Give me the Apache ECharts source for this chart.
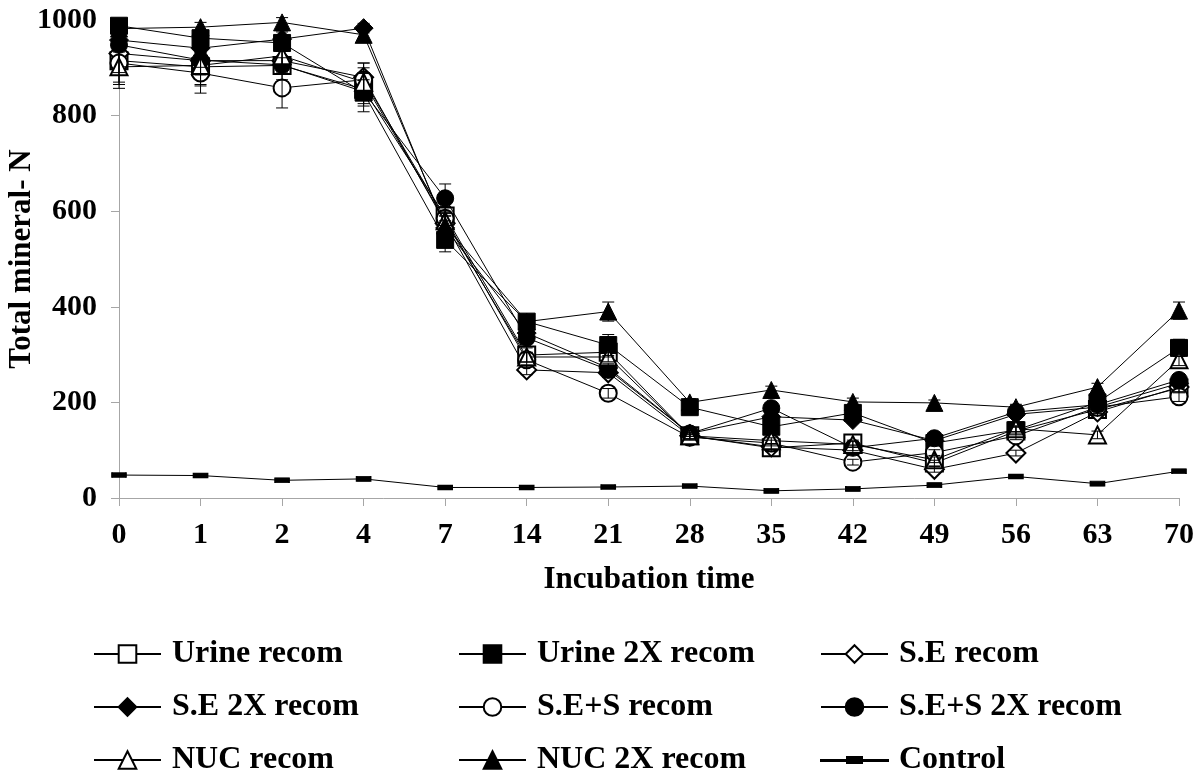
<!DOCTYPE html>
<html>
<head>
<meta charset="utf-8">
<script src="https://cdn.jsdelivr.net/npm/echarts@6/dist/echarts.min.js"></script>
<style>
  html, body { margin: 0; padding: 0; background: #fff; }
  #chart { width: 1204px; height: 773px; }
</style>
</head>
<body>
<div id="chart"></div>
<script>
// Incubation days (category axis)
const days = ['0', '1', '2', '4', '7', '14', '21', '28', '35', '42', '49', '56', '63', '70'];

// Total mineral N for each treatment
const urineRecom   = [915, 902, 905, 855, 590, 299, 305, 130, 105, 115, 73, 140, 185, 230];
const urine2xRecom = [988, 962, 952, 848, 540, 369, 320, 190, 149, 178, 115, 142, 200, 314];
const seRecom      = [930, 915, 915, 880, 575, 268, 262, 130, 107, 100, 60, 94, 180, 232];
const se2xRecom    = [958, 941, 960, 983, 565, 345, 272, 135, 170, 163, 120, 175, 190, 240];
const sesRecom     = [910, 889, 858, 875, 585, 289, 219, 127, 115, 75, 95, 130, 190, 212];
const ses2xRecom   = [948, 916, 906, 850, 627, 335, 268, 135, 188, 105, 125, 180, 195, 247];
const nucRecom     = [902, 905, 925, 870, 580, 295, 295, 130, 120, 112, 80, 145, 132, 289];
const nuc2xRecom   = [982, 985, 995, 969, 570, 369, 390, 200, 226, 201, 199, 190, 232, 392];
const control      = [48, 47, 37, 40, 22, 22, 23, 25, 15, 19, 27, 45, 30, 56];

// Standard errors (drawn as I-shaped bars)
const urineErr   = [45, 40, 30, 35, 20, 15, 10, 8, 8, 6, 6, 8, 8, 10];
const urine2xErr = [10, 15, 15, 40, 25, 10, 22, 8, 8, 8, 6, 8, 8, 18];
const seErr      = [40, 30, 20, 30, 15, 10, 10, 6, 6, 6, 6, 6, 8, 10];
const se2xErr    = [10, 10, 15, 10, 15, 10, 10, 6, 8, 6, 6, 6, 8, 10];
const sesErr     = [45, 42, 42, 35, 15, 15, 10, 6, 6, 6, 6, 8, 8, 10];
const ses2xErr   = [15, 15, 15, 25, 30, 10, 10, 6, 8, 6, 6, 6, 8, 10];
const nucErr     = [45, 40, 25, 30, 15, 10, 10, 6, 6, 6, 6, 6, 8, 12];
const nuc2xErr   = [10, 10, 10, 15, 20, 10, 20, 8, 8, 8, 6, 6, 8, 18];
const controlErr = [2, 2, 2, 2, 2, 2, 2, 2, 2, 2, 2, 2, 2, 2];

const yTicks = { min: 0, max: 1000, interval: 200 };

const FONT = '"Liberation Serif", "Times New Roman", serif';

const treatments = [
  { name: 'Urine recom',      values: urineRecom,   err: urineErr,   symbol: 'emptyRect' },
  { name: 'Urine 2X recom',   values: urine2xRecom, err: urine2xErr, symbol: 'rect' },
  { name: 'S.E recom',        values: seRecom,      err: seErr,      symbol: 'emptyDiamond' },
  { name: 'S.E 2X recom',     values: se2xRecom,    err: se2xErr,    symbol: 'diamond' },
  { name: 'S.E+S recom',      values: sesRecom,     err: sesErr,     symbol: 'emptyCircle' },
  { name: 'S.E+S 2X recom',   values: ses2xRecom,   err: ses2xErr,   symbol: 'circle' },
  { name: 'NUC recom',        values: nucRecom,     err: nucErr,     symbol: 'emptyTriangle' },
  { name: 'NUC 2X recom',     values: nuc2xRecom,   err: nuc2xErr,   symbol: 'triangle' },
  { name: 'Control',          values: control,      err: controlErr, symbol: 'rect', size: [14, 5] }
];

const lineSeries = treatments.map((t, i) => ({
  name: t.name,
  type: 'line',
  data: t.values,
  symbol: t.symbol,
  symbolSize: t.size || (t.symbol.toLowerCase().indexOf('diamond') >= 0 ? 19 : 17),
  showAllSymbol: true,
  lineStyle: { color: '#000', width: 1 },
  itemStyle: { color: '#000', borderColor: '#000', borderWidth: 1 },
  z: 2 + i,
  animation: false
}));

// I-shaped error bars for every treatment
function errorSeries(t, i) {
  return {
    type: 'custom',
    name: t.name + ' err',
    data: t.values.map((v, k) => [k, v - t.err[k], v + t.err[k]]),
    z: 20 + i,
    silent: true,
    animation: false,
    renderItem: function (params, api) {
      const lo = api.coord([api.value(0), api.value(1)]);
      const hi = api.coord([api.value(0), api.value(2)]);
      const w = 6;
      const st = { stroke: '#000', lineWidth: 1 };
      return {
        type: 'group',
        children: [
          { type: 'line', shape: { x1: lo[0], y1: lo[1], x2: hi[0], y2: hi[1] }, style: st },
          { type: 'line', shape: { x1: lo[0] - w, y1: lo[1], x2: lo[0] + w, y2: lo[1] }, style: st },
          { type: 'line', shape: { x1: hi[0] - w, y1: hi[1], x2: hi[0] + w, y2: hi[1] }, style: st }
        ]
      };
    }
  };
}

const errSeries = treatments.map(errorSeries);

// Control legend icon: thin line with a short dash in the middle
const controlIcon = 'path://M0,3 L67,3 L67,4 L0,4 Z M26,0 L41,0 L41,6 L26,6 Z';

const legendText = { fontFamily: FONT, fontWeight: 'bold', fontSize: 32, color: '#000', padding: [0, 0, 0, 6] };

// Legend grid: three rows by three columns
const legendRows = [
  ['Urine recom', 'Urine 2X recom', 'S.E recom'],
  ['S.E 2X recom', 'S.E+S recom', 'S.E+S 2X recom'],
  ['NUC recom', 'NUC 2X recom', 'Control']
];
const legendLeft = [88, 453, 815];
const legendTop = [633, 686, 739];

const legends = [];
legendRows.forEach((row, r) => {
  row.forEach((n, c) => {
    legends.push({
      orient: 'horizontal',
      left: legendLeft[c],
      top: legendTop[r],
      itemWidth: 67,
      itemHeight: 22,
      textStyle: legendText,
      selectedMode: false,
      data: [n === 'Control' ? { name: n, icon: controlIcon } : { name: n }]
    });
  });
});

const chart = echarts.init(document.getElementById('chart'), null, { renderer: 'canvas' });

chart.setOption({
  animation: false,
  backgroundColor: '#fff',
  grid: { left: 119, right: 25, top: 20, bottom: 275, containLabel: false, outerBoundsMode: 'none' },
  legend: legends,
  xAxis: {
    type: 'category',
    data: days,
    boundaryGap: false,
    name: 'Incubation time',
    nameLocation: 'middle',
    nameGap: 66,
    nameTextStyle: { fontFamily: FONT, fontWeight: 'bold', fontSize: 31, color: '#000' },
    axisLine: { lineStyle: { color: '#a6a6a6', width: 1 } },
    axisTick: { show: true, alignWithLabel: true, length: 8, lineStyle: { color: '#a6a6a6' } },
    axisLabel: { fontFamily: FONT, fontWeight: 'bold', fontSize: 30, color: '#000', margin: 22, interval: 0 },
    splitLine: { show: false }
  },
  yAxis: {
    type: 'value',
    min: yTicks.min,
    max: yTicks.max,
    interval: yTicks.interval,
    name: 'Total mineral- N',
    nameLocation: 'middle',
    nameRotate: 90,
    nameGap: 82,
    nameMoveOverlap: false,
    nameTextStyle: { fontFamily: FONT, fontWeight: 'bold', fontSize: 31, color: '#000' },
    axisLine: { show: true, lineStyle: { color: '#a6a6a6', width: 1 } },
    axisTick: { show: true, length: 8, lineStyle: { color: '#a6a6a6' } },
    axisLabel: { fontFamily: FONT, fontWeight: 'bold', fontSize: 30, color: '#000', margin: 22,
                 formatter: v => String(v) },
    splitLine: { show: false }
  },
  series: lineSeries.concat(errSeries)
});
</script>
</body>
</html>
